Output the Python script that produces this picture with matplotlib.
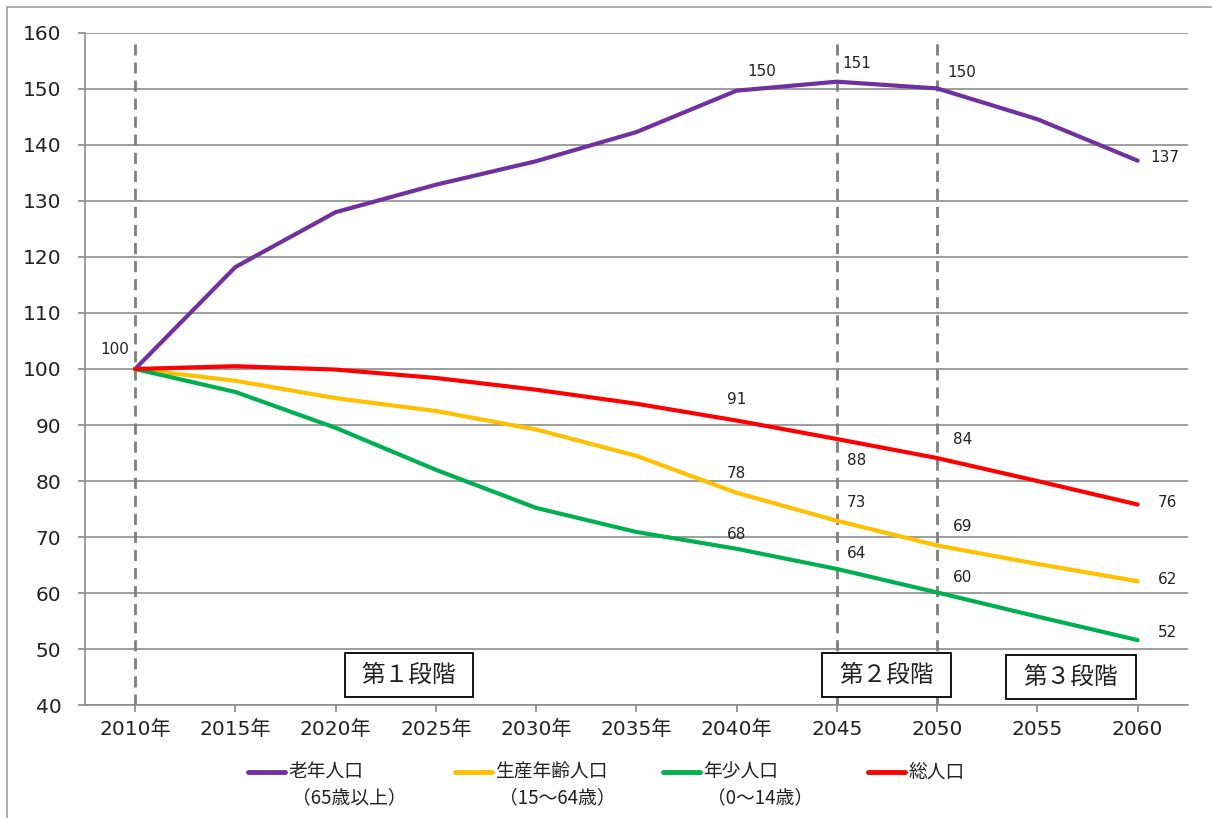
import matplotlib.pyplot as plt
from matplotlib.lines import Line2D
from matplotlib.patches import Rectangle

plt.rcParams['font.family'] = ['Noto Sans CJK JP', 'DejaVu Sans']
num_font = ['DejaVu Sans', 'Noto Sans CJK JP']

# 2010年を100とした指数
years = ['2010年', '2015年', '2020年', '2025年', '2030年', '2035年', '2040年',
         '2045', '2050', '2055', '2060']
rojin = [100, 118.2, 128.0, 132.9, 137.1, 142.3, 149.7, 151.3, 150.1, 144.6, 137.2]
seisan = [100, 97.9, 94.8, 92.5, 89.2, 84.5, 77.9, 72.9, 68.5, 65.2, 62.1]
nensho = [100, 95.9, 89.5, 82.0, 75.2, 70.9, 67.9, 64.3, 60.1, 55.8, 51.6]
sou = [100, 100.5, 99.9, 98.4, 96.3, 93.8, 90.8, 87.5, 84.1, 80.0, 75.8]

names = ['老年人口', '生産年齢人口', '年少人口', '総人口']
sub_names = ['（65歳以上）', '（15～64歳）', '（0～14歳）', '']
colors = ['#7030A0', '#FFC000', '#00B050', '#FF0000']
series = [rojin, seisan, nensho, sou]

# ラベルを付ける点: (系列, 年の位置, 表示値, x方向のずれ, y方向のずれ)
labels = [
    (0, 0, 100, -0.2, 3.5),
    (0, 6, 150, 0.25, 3.5), (0, 7, 151, 0.2, 3.3), (0, 8, 150, 0.25, 2.8), (0, 10, 137, 0.27, 0.5),
    (3, 6, 91, 0.0, 3.8), (3, 7, 88, 0.2, -3.8), (3, 8, 84, 0.25, 3.3), (3, 10, 76, 0.3, 0.3),
    (1, 6, 78, 0.0, 3.5), (1, 7, 73, 0.2, 3.3), (1, 8, 69, 0.25, 3.3), (1, 10, 62, 0.3, 0.3),
    (2, 6, 68, 0.0, 2.5), (2, 7, 64, 0.2, 2.7), (2, 8, 60, 0.25, 2.7), (2, 10, 52, 0.3, 1.3),
]

# 段階の枠: (左, 右, 下, 上)
stages = ['第１段階', '第２段階', '第３段階']
stage_box = [(2.09, 3.37, 41.4, 49.3), (6.85, 8.14, 41.4, 49.3), (8.69, 9.98, 41.1, 48.9)]

fig = plt.figure(figsize=(12.12, 8.18), dpi=100)
ax = fig.add_axes([0.0701, 0.1381, 0.9099, 0.8216])

x = list(range(len(years)))
for vals, c in zip(series, colors):
    ax.plot(x, vals, color=c, lw=3, solid_capstyle='round', zorder=3)

for si, i, v, dx, dy in labels:
    ax.text(x[i] + dx, series[si][i] + dy, str(v), fontsize=11, family=num_font,
            color='#222222', ha='center', va='center', zorder=4)

for i in [0, 7, 8]:
    ax.plot([x[i], x[i]], [40, 158.8], color='#7f7f7f', lw=2, ls=(0, (4, 2.5)), zorder=2)

for s, (x0, x1, y0, y1) in zip(stages, stage_box):
    ax.add_patch(Rectangle((x0, y0), x1 - x0, y1 - y0, fc='white', ec='black',
                           lw=1.3, zorder=5))
    ax.text((x0 + x1) / 2, (y0 + y1) / 2, s, fontsize=17, ha='center', va='center',
            color='#222222', zorder=6)

ax.set_xlim(-0.5, 10.5)
ax.set_ylim(40, 160)
ax.set_yticks(range(40, 161, 10))
ax.set_xticks(x)
ax.set_xticklabels(years)
for t in ax.get_xticklabels() + ax.get_yticklabels():
    t.set_family(num_font)
ax.tick_params(axis='both', labelsize=14.5, labelcolor='#222222', color='#888888',
               length=5, width=1.2)
ax.tick_params(axis='x', pad=6)
ax.tick_params(axis='y', pad=12)
ax.grid(axis='y', color='#8c8c8c', lw=1.2)
ax.set_axisbelow(True)
for side in ['top', 'right']:
    ax.spines[side].set_visible(False)
for side in ['left', 'bottom']:
    ax.spines[side].set_color('#8c8c8c')
    ax.spines[side].set_linewidth(1.2)

# 凡例
leg_x = [248, 455, 663, 868]
for lx, n, sn, c in zip(leg_x, names, sub_names, colors):
    fig.add_artist(Line2D([lx / 1212, (lx + 37) / 1212], [1 - 772 / 818] * 2,
                          color=c, lw=3.5, solid_capstyle='round'))
    fig.text((lx + 40) / 1212, 1 - 772 / 818, n, fontsize=13.5, va='center', color='#222222')
    if sn:
        fig.text((lx + 44) / 1212, 1 - 798 / 818, sn, fontsize=13.5, va='center',
                 color='#222222')

# 外枠 (上と左だけ見える)
fig.add_artist(Rectangle((7 / 1212, -0.05), 1.1, 1 - 7 / 818 + 0.05, transform=fig.transFigure,
                         fill=False, ec='#a0a0a0', lw=1.2))

fig.savefig('out.png', dpi=100)
